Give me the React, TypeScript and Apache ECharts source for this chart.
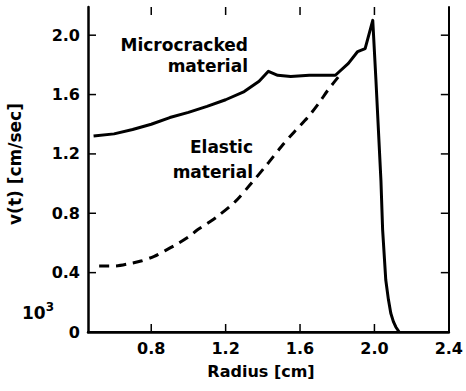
import React, { useEffect, useRef } from "react";
import * as echarts from "echarts";

const xTicks = [0.8, 1.2, 1.6, 2.0, 2.4];
const yTicks = [0, 0.4, 0.8, 1.2, 1.6, 2.0];

const microR = [0.49, 0.6, 0.7, 0.8, 0.9, 1.0, 1.1, 1.2, 1.3, 1.38, 1.43, 1.48, 1.55, 1.65, 1.79, 1.86, 1.91, 1.95, 1.991, 2.008, 2.035, 2.044, 2.061, 2.075, 2.088, 2.102, 2.115, 2.133];
const microV = [1.32, 1.335, 1.365, 1.40, 1.445, 1.48, 1.52, 1.565, 1.62, 1.69, 1.757, 1.73, 1.722, 1.73, 1.73, 1.81, 1.89, 1.91, 2.10, 1.70, 1.02, 0.69, 0.35, 0.22, 0.126, 0.07, 0.034, 0.0];

const elasticR = [0.52, 0.6, 0.69, 0.75, 0.816, 0.87, 0.93, 1.0, 1.047, 1.1, 1.153, 1.25, 1.33, 1.42, 1.5, 1.57, 1.644, 1.7, 1.75, 1.813];
const elasticV = [0.445, 0.445, 0.463, 0.48, 0.51, 0.545, 0.586, 0.64, 0.687, 0.73, 0.776, 0.877, 0.99, 1.125, 1.25, 1.35, 1.45, 1.54, 1.63, 1.73];

const X_MIN = 0.46;
const X_MAX = 2.4;
const Y_MIN = 0;
const Y_MAX = 2.19;

const FONT = "'DejaVu Sans', Verdana, sans-serif";

export default function App() {
  const ref = useRef<HTMLDivElement>(null);
  useEffect(() => {
    if (!ref.current) return;
    const chart = echarts.init(ref.current, undefined, { renderer: "svg" });
    const micro = microR.map((r, i) => [r, microV[i]]);
    const elastic = elasticR.map((r, i) => [r, elasticV[i]]);
    const TL = 8;
    const tickStyle = { stroke: "#000", lineWidth: 1.5 };
    const labelBase = {
      color: "#000",
      fontFamily: FONT,
      fontWeight: "bold",
      fontSize: 16,
    };
    chart.setOption({
      animation: false,
      backgroundColor: "#fff",
      grid: { left: 88, right: 13, top: 7, bottom: 59, containLabel: false },
      xAxis: [
        {
          type: "value",
          min: X_MIN,
          max: X_MAX,
          position: "bottom",
          axisLine: { show: true, lineStyle: { color: "#000", width: 2.5 } },
          splitLine: { show: false },
          axisTick: { show: false },
          axisLabel: {
            ...labelBase,
            customValues: xTicks,
            formatter: (v: number) => v.toFixed(1),
            margin: 8,
          },
        },
        {
          type: "value",
          min: X_MIN,
          max: X_MAX,
          position: "top",
          axisLine: { show: true, lineStyle: { color: "#000", width: 2 } },
          splitLine: { show: false },
          axisTick: { show: false },
          axisLabel: { show: false },
        },
      ],
      yAxis: [
        {
          type: "value",
          min: Y_MIN,
          max: Y_MAX,
          position: "left",
          axisLine: { show: true, lineStyle: { color: "#000", width: 2.5 } },
          splitLine: { show: false },
          axisTick: { show: false },
          axisLabel: {
            ...labelBase,
            customValues: yTicks,
            formatter: (v: number) => (v === 0 ? "0" : v.toFixed(1)),
            margin: 8,
          },
        },
        {
          type: "value",
          min: Y_MIN,
          max: Y_MAX,
          position: "right",
          axisLine: { show: true, lineStyle: { color: "#000", width: 2 } },
          splitLine: { show: false },
          axisTick: { show: false },
          axisLabel: { show: false },
        },
      ],
      series: [
        {
          name: "Microcracked material",
          type: "line",
          data: micro,
          xAxisIndex: 0,
          yAxisIndex: 0,
          showSymbol: false,
          symbol: "none",
          lineStyle: { color: "#000", width: 3, join: "round" },
        },
        {
          name: "Elastic material",
          type: "line",
          data: elastic,
          xAxisIndex: 0,
          yAxisIndex: 0,
          smooth: 0.3,
          showSymbol: false,
          symbol: "none",
          lineStyle: { color: "#000", width: 3, type: [10, 7] },
        },
        {
          name: "xticks",
          type: "custom",
          xAxisIndex: 0,
          yAxisIndex: 0,
          clip: false,
          silent: true,
          data: xTicks.map((v) => [v, Y_MIN]),
          renderItem: (_params: any, api: any) => {
            const v = api.value(0);
            const b = api.coord([v, Y_MIN]);
            const t = api.coord([v, Y_MAX]);
            return {
              type: "group",
              children: [
                { type: "line", shape: { x1: b[0], y1: b[1], x2: b[0], y2: b[1] - TL }, style: tickStyle },
                { type: "line", shape: { x1: t[0], y1: t[1], x2: t[0], y2: t[1] + TL }, style: tickStyle },
              ],
            };
          },
        },
        {
          name: "yticks",
          type: "custom",
          xAxisIndex: 0,
          yAxisIndex: 0,
          clip: false,
          silent: true,
          data: yTicks.map((v) => [X_MIN, v]),
          renderItem: (_params: any, api: any) => {
            const v = api.value(1);
            const l = api.coord([X_MIN, v]);
            const r = api.coord([X_MAX, v]);
            return {
              type: "group",
              children: [
                { type: "line", shape: { x1: l[0], y1: l[1], x2: l[0] + TL, y2: l[1] }, style: tickStyle },
                { type: "line", shape: { x1: r[0], y1: r[1], x2: r[0] - TL, y2: r[1] }, style: tickStyle },
              ],
            };
          },
        },
      ],
      graphic: [
        {
          type: "text",
          x: 248,
          y: 55,
          style: {
            text: "Microcracked\nmaterial",
            font: `bold 17px ${FONT}`,
            fill: "#000",
            align: "right",
            verticalAlign: "middle",
            lineHeight: 21,
          },
        },
        {
          type: "text",
          x: 253,
          y: 159,
          style: {
            text: "Elastic\nmaterial",
            font: `bold 17px ${FONT}`,
            fill: "#000",
            align: "right",
            verticalAlign: "middle",
            lineHeight: 25,
          },
        },
        {
          type: "text",
          x: 261,
          y: 371,
          style: {
            text: "Radius [cm]",
            font: `bold 16px ${FONT}`,
            fill: "#000",
            align: "center",
            verticalAlign: "middle",
          },
        },
        {
          type: "text",
          x: 15,
          y: 164,
          rotation: Math.PI / 2,
          style: {
            text: "v(t) [cm/sec]",
            font: `bold 17px ${FONT}`,
            fill: "#000",
            align: "center",
            verticalAlign: "middle",
          },
        },
        {
          type: "text",
          x: 22,
          y: 311,
          style: {
            text: "{b|10}{s|3}",
            align: "left",
            verticalAlign: "middle",
            rich: {
              b: { font: `bold 17px ${FONT}`, fill: "#000", verticalAlign: "bottom" },
              s: { font: `bold 12px ${FONT}`, fill: "#000", verticalAlign: "top", padding: [0, 0, 9, 0] },
            },
          },
        },
      ],
    });
    return () => chart.dispose();
  }, []);
  return (
    <div
      ref={ref}
      style={{ position: "fixed", left: 0, top: 0, width: 466, height: 391 }}
    />
  );
}
